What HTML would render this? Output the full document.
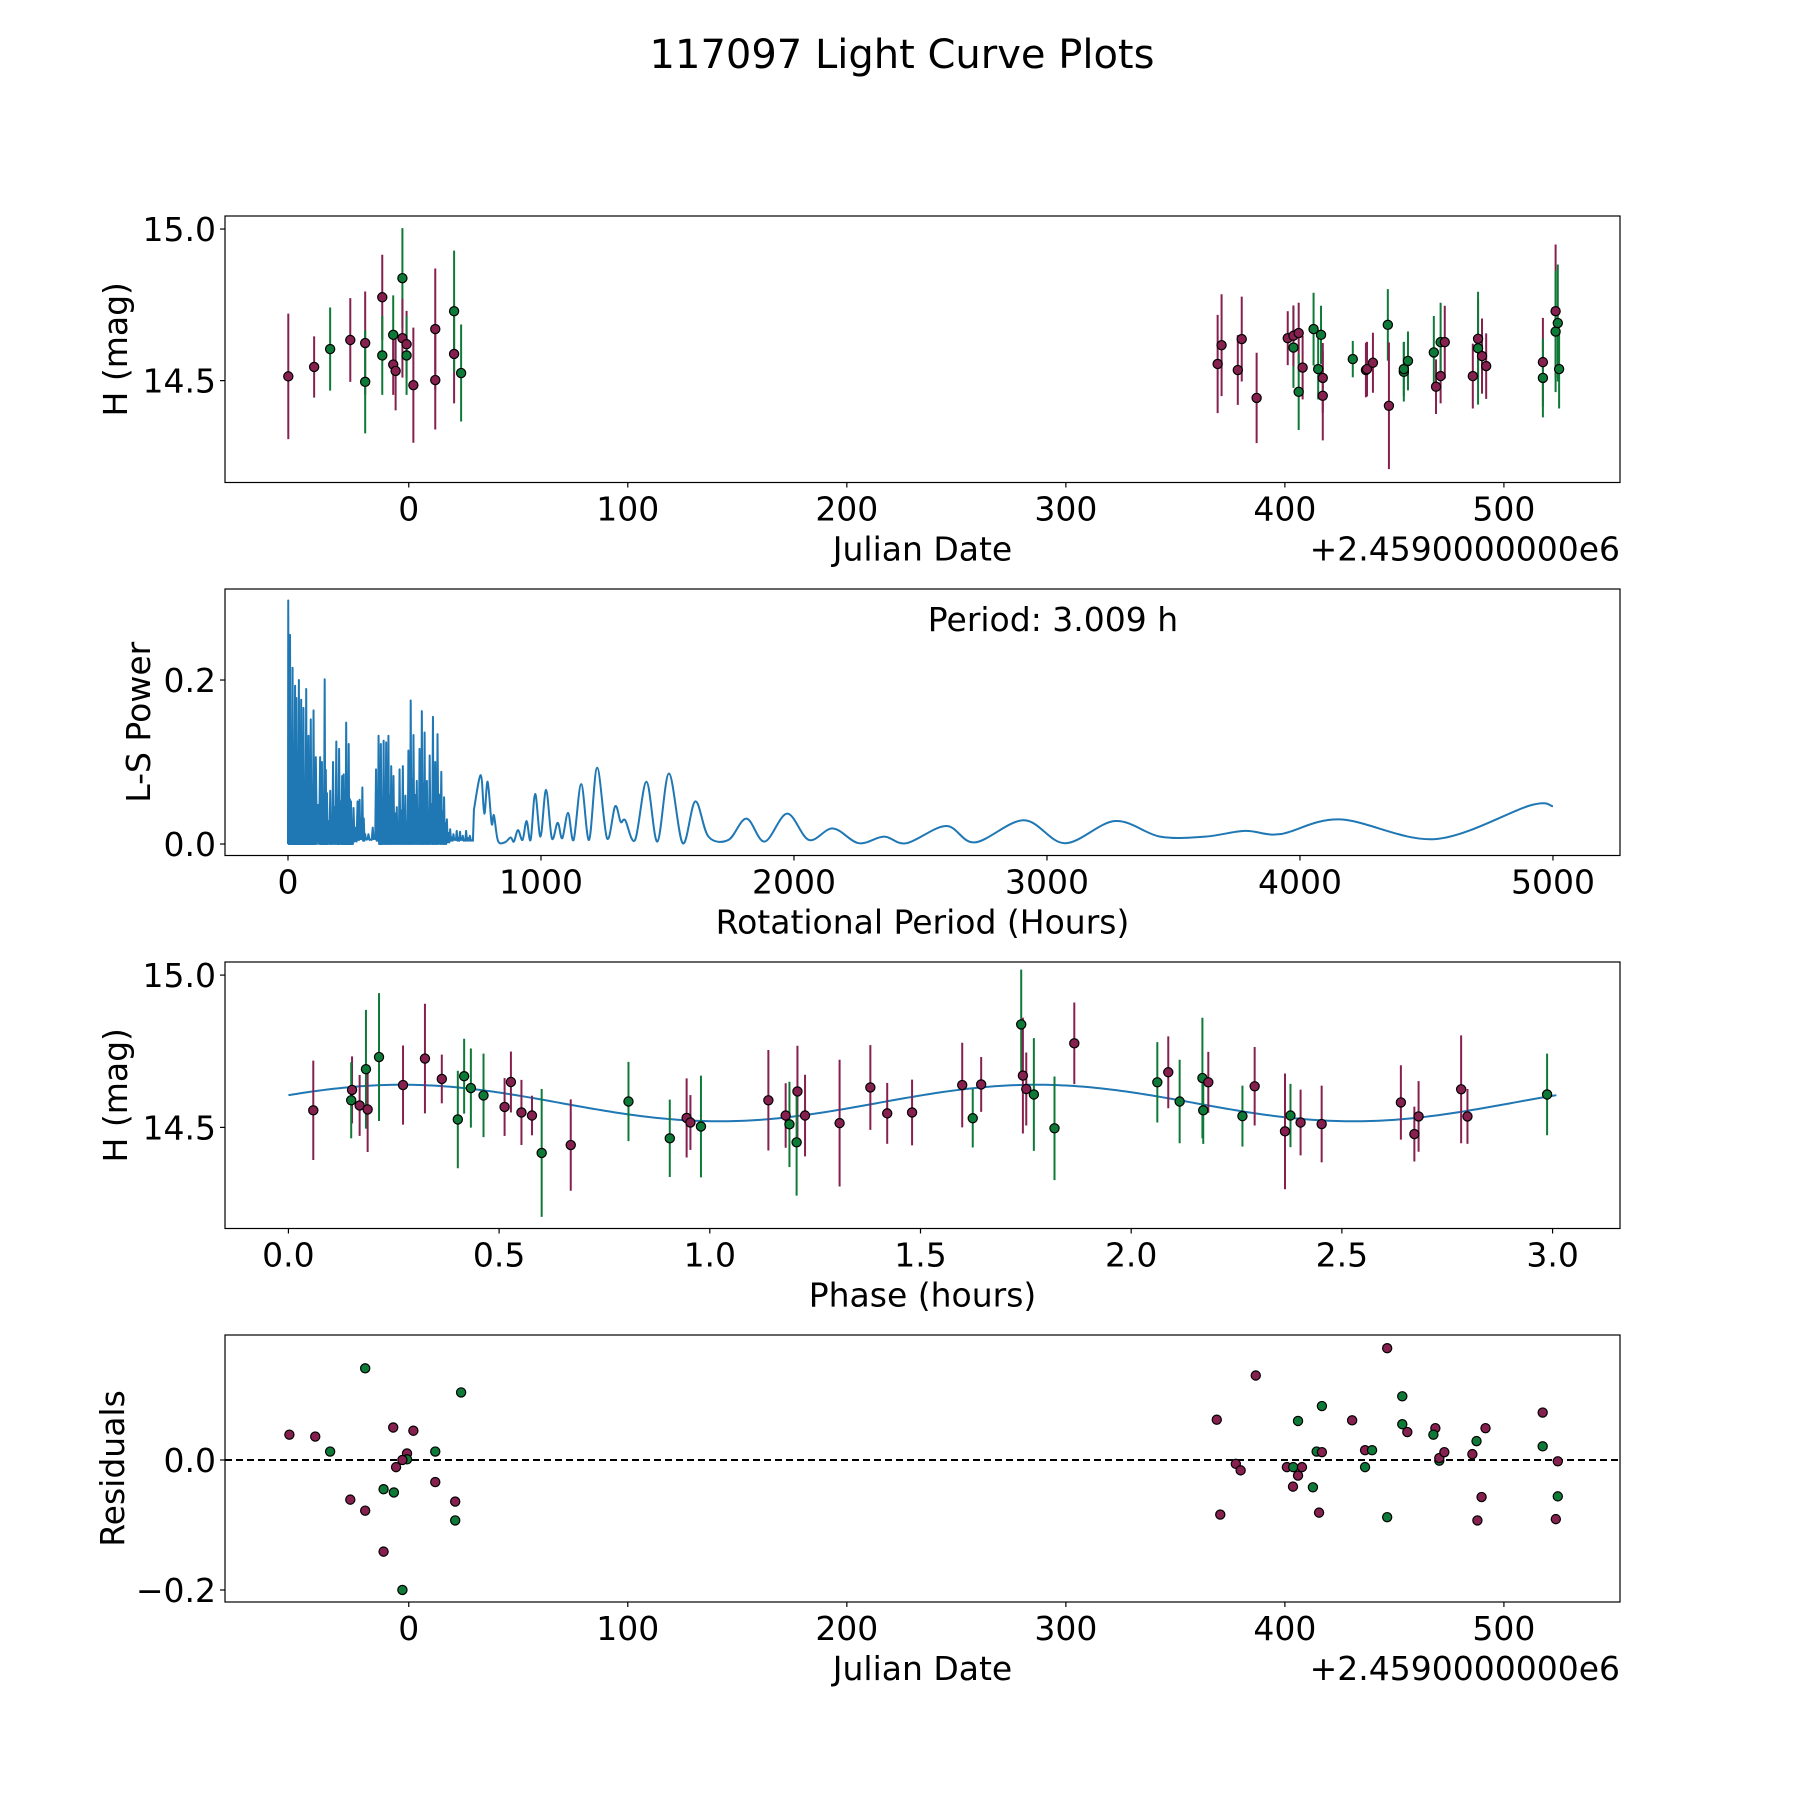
<!DOCTYPE html>
<html><head><meta charset="utf-8"><style>
html,body{margin:0;padding:0;background:#fff;}
svg{display:block;font-family:"DejaVu Sans","Liberation Sans",sans-serif;}
</style></head><body>
<svg id="fig" width="1800" height="1800" viewBox="0 0 1800 1800" xmlns="http://www.w3.org/2000/svg">
<rect width="1800" height="1800" fill="#fff"/>
<text x="902" y="68" font-size="40" text-anchor="middle">117097 Light Curve Plots</text>
<g id="p1"></g>
<g id="p2"></g>
<g id="p3"></g>
<g id="p4"></g>
</svg>
<script>
// ---- Panel 1: light curve (date offset, mag, err, filter) ----
const lcDate=[-55,-43.2,-35.9,-26.7,-19.9,-19.9,-12.1,-12.1,-7.1,-7.1,-6,-2.9,-2.9,-1,-1,2.1,12.1,12.1,20.7,20.7,23.9,
369.3,371.1,378.5,380.3,387.1,401.3,403.9,403.9,406.3,406.3,408.1,413.1,415.2,416.5,417.3,417.3,431,437,437.5,440.2,447,447.5,454.3,454.3,456.2,468,469,471.1,471.1,473,485.8,488.2,488.2,490,491.9,517.8,517.8,523.6,523.6,524.6,525.2];
const lcMag=[14.514,14.545,14.604,14.634,14.624,14.496,14.775,14.583,14.651,14.553,14.532,14.838,14.64,14.62,14.583,14.485,14.67,14.502,14.588,14.729,14.525,
14.555,14.617,14.535,14.637,14.443,14.64,14.609,14.648,14.657,14.463,14.543,14.67,14.538,14.651,14.509,14.45,14.571,14.535,14.538,14.559,14.684,14.417,14.529,14.538,14.565,14.593,14.48,14.515,14.627,14.627,14.515,14.638,14.607,14.581,14.548,14.561,14.509,14.729,14.662,14.69,14.538];
const lcErr=[0.207,0.101,0.137,0.138,0.17,0.17,0.14,0.13,0.13,0.1,0.13,0.165,0.13,0.11,0.13,0.19,0.2,0.163,0.163,0.2,0.16,
0.162,0.168,0.115,0.14,0.149,0.089,0.133,0.1,0.1,0.126,0.105,0.12,0.1,0.096,0.115,0.147,0.06,0.09,0.09,0.099,0.118,0.209,0.098,0.09,0.097,0.12,0.09,0.09,0.13,0.12,0.107,0.13,0.186,0.124,0.108,0.146,0.13,0.22,0.2,0.193,0.13];
const lcBand="rrgrrgrggrrgrrgrrrrgg rrrrrrgrrgrgggrrgrrrgrggggrrgrrrgrrrgrgggr".replace(/ /g,'').split('');
// ---- Panel 2: periodogram ----
const spikePeriod=[1,8,18,28,33,43,52,61,72,81,90,101,110,127,134,145,154,167,178,191,202,214,220,230,240,249,259,275,283,294,305,318,335,348,358,367,378,388,397,408,417,430,441,454,464,476,485,496,509,520,529,540,549,560,573,582,591,606,617,628,641,654,667,680,691,704,719];
const spikePower=[0.297,0.255,0.215,0.193,0.178,0.2,0.176,0.166,0.189,0.132,0.152,0.163,0.106,0.106,0.1,0.201,0.062,0.065,0.1,0.125,0.116,0.083,0.085,0.148,0.122,0.052,0.044,0.052,0.054,0.069,0.012,0.012,0.02,0.091,0.132,0.122,0.126,0.124,0.132,0.095,0.083,0.045,0.091,0.095,0.059,0.114,0.175,0.133,0.077,0.116,0.162,0.136,0.077,0.108,0.155,0.1,0.134,0.088,0.057,0.03,0.018,0.012,0.016,0.015,0.01,0.016,0.01];
const spikeFloor=[0,0,0,0,0,0,0,0,0,0,0,0,0,0,0,0,0,0,0,0,0,0,0,0,0,0,0.003,0.005,0.006,0.004,0.006,0.005,0.006,0.004,0,0,0,0,0,0,0,0,0,0,0,0,0,0,0,0,0,0,0,0,0,0,0,0,0,0.002,0.004,0.005,0.004,0.005,0.004,0.004,0.004];
const smoothPeriod=[735,762,776,789,805,814,830,857,880,893,909,927,943,959,977,998,1020,1043,1066,1084,1107,1129,1159,1190,1222,1261,1293,1315,1333,1372,1417,1460,1506,1560,1610,1662,1741,1812,1884,1973,2059,2154,2256,2356,2445,2601,2715,2909,3071,3269,3447,3625,3783,3921,4158,4534,4909,5000];
const smoothPower=[0.042,0.084,0.037,0.076,0.025,0.035,0.004,0.002,0.008,0.003,0.017,0.005,0.028,0.005,0.061,0.009,0.066,0.007,0.026,0.007,0.038,0.005,0.073,0.005,0.093,0.007,0.046,0.027,0.029,0.005,0.076,0.003,0.086,0.001,0.052,0.009,0.005,0.031,0.003,0.037,0.005,0.019,0.001,0.009,0.001,0.022,0.002,0.029,0.001,0.028,0.009,0.009,0.016,0.012,0.030,0.006,0.047,0.046];
// ---- Panel 3: phase folded ----
const phPhase=[0.059,0.151,0.149,0.184,0.169,0.188,0.215,0.272,0.324,0.364,0.402,0.417,0.433,0.463,0.513,0.528,0.553,0.578,0.601,0.670,0.807,0.905,0.945,0.954,0.979,1.139,1.180,1.189,1.208,1.206,1.226,1.308,1.381,1.421,
1.480,1.599,1.624,1.644,1.739,1.743,1.751,1.769,1.818,1.865,2.062,2.088,2.115,2.169,2.171,2.183,2.264,2.293,2.365,2.378,2.402,2.452,2.640,2.672,2.682,2.783,2.798,2.987];
const phMag=[14.556,14.623,14.589,14.691,14.572,14.559,14.731,14.639,14.726,14.659,14.526,14.668,14.629,14.605,14.567,14.649,14.549,14.539,14.416,14.442,14.585,14.464,14.531,14.516,14.503,14.589,14.539,14.51,14.618,14.451,14.539,14.514,14.631,14.546,
14.549,14.639,14.53,14.641,14.838,14.67,14.626,14.608,14.497,14.776,14.648,14.681,14.585,14.662,14.556,14.648,14.537,14.635,14.487,14.539,14.516,14.511,14.582,14.478,14.536,14.625,14.536,14.608];
const phErr=[0.163,0.11,0.125,0.195,0.1,0.14,0.21,0.13,0.18,0.08,0.16,0.123,0.13,0.137,0.095,0.1,0.107,0.065,0.21,0.15,0.13,0.127,0.13,0.09,0.167,0.165,0.106,0.14,0.15,0.175,0.134,0.208,0.139,0.1,
0.108,0.139,0.096,0.09,0.18,0.19,0.12,0.185,0.17,0.134,0.132,0.118,0.137,0.198,0.11,0.1,0.1,0.129,0.19,0.104,0.108,0.126,0.122,0.09,0.116,0.177,0.09,0.134];
const phBand="rrggrrgrrrggggrrrrgrggrrgrrgrgrrrr rrgrgrrggrgrgggrgrrgrrrrrrrg".replace(/ /g,'').split('');
const fitMean=14.58, fitAmp=0.06, fitPeak=0.27, fitHalfPeriod=1.5045, fitEnd=3.009;
// ---- Panel 4: residuals ----
const resDate=[-54.5,-42.7,-35.9,-19.9,-26.7,-19.9,-11.5,-6.8,-11.5,-2.9,-7.1,2.1,-0.8,-0.8,-2.9,-5.8,12.1,12.1,21.2,21.2,23.9,
368.9,370.5,377.6,379.8,386.7,400.9,403.8,407.8,406,403.7,406,412.8,414.5,416.9,416.9,415.6,430.7,436.6,439.8,436.6,446.7,446.7,453.6,453.6,455.9,468.7,467.8,470.5,470.5,472.8,485.6,487.5,487.9,489.8,491.6,517.7,517.7,524.6,524.6,523.7];
const resVal=[0.039,0.036,0.013,0.141,-0.061,-0.078,-0.045,-0.05,-0.141,-0.2,0.05,0.045,0.01,0.001,0,-0.011,0.013,-0.034,-0.064,-0.093,0.104,
0.062,-0.084,-0.006,-0.016,0.13,-0.011,-0.011,-0.011,-0.024,-0.041,0.06,-0.042,0.013,0.012,0.083,-0.081,0.061,0.015,0.015,-0.011,0.172,-0.088,0.098,0.055,0.043,0.049,0.039,-0.001,0.003,0.012,0.009,0.029,-0.093,-0.057,0.049,0.073,0.021,-0.002,-0.056,-0.091];
const resBand="rrggrrggrgrrrgrrgrrgg rrrrrrgrrrgggrgrrrggrgggrrggrrrgrrrrgrgr".replace(/ /g,'').split('');

const NS="http://www.w3.org/2000/svg";
const COL={r:'#85204f',g:'#0e7a37'};
const FS=33;
function mk(tag,attrs,parent){const e=document.createElementNS(NS,tag);for(const k in attrs)e.setAttribute(k,attrs[k]);parent.appendChild(e);return e;}
function axis(g,x0,x1,y0,y1,dx,dy){
  return {X:v=>x0+(v-dx[0])/(dx[1]-dx[0])*(x1-x0),Y:v=>y1-(v-dy[0])/(dy[1]-dy[0])*(y1-y0),x0,x1,y0,y1};
}
function frame(g,A,xt,xl,yt,yl,xlabel,ylabel,ylx,offset){
  const f=mk('rect',{x:A.x0,y:A.y0,width:A.x1-A.x0,height:A.y1-A.y0,fill:'none',stroke:'#000','stroke-width':1.2},g);
  
  
  xt.forEach((v,i)=>{const x=A.X(v);
    const t=mk('line',{x1:x,x2:x,y1:A.y1,y2:A.y1+5,stroke:'#000','stroke-width':1.2},g);
    
    
    const l=mk('text',{x:x,y:A.y1+38,'font-size':FS,'text-anchor':'middle'},g);l.textContent=xl[i];
    
    });
  yt.forEach((v,i)=>{const y=A.Y(v);
    const t=mk('line',{x1:A.x0-5,x2:A.x0,y1:y,y2:y,stroke:'#000','stroke-width':1.2},g);
    
    
    const l=mk('text',{x:A.x0-9,y:y+12,'font-size':FS,'text-anchor':'end'},g);l.textContent=yl[i];
    
    });
  const xa=mk('text',{x:(A.x0+A.x1)/2,y:A.y1+78,'font-size':FS,'text-anchor':'middle'},g);xa.textContent=xlabel;
  
  
  const cy=(A.y0+A.y1)/2;
  const ya=mk('text',{x:ylx,y:cy,'font-size':FS,'text-anchor':'middle',transform:`rotate(-90 ${ylx} ${cy})`},g);ya.textContent=ylabel;
  
  
  if(offset){const o=mk('text',{x:A.x1,y:A.y1+78,'font-size':FS,'text-anchor':'end'},g);o.textContent=offset;
    
    }
}
function errpts(g,A,xs,ys,es,bs){
  xs.forEach((v,i)=>{const x=A.X(v),c=COL[bs[i]];
    const l=mk('line',{x1:x,x2:x,y1:A.Y(ys[i]+es[i]),y2:A.Y(ys[i]-es[i]),stroke:c,'stroke-width':2},g);
    
    });
  xs.forEach((v,i)=>{const c=mk('circle',{cx:A.X(v),cy:A.Y(ys[i]),r:4.6,fill:COL[bs[i]],stroke:'#000','stroke-width':1.2},g);
    
    });
}
// Panel 1
const g1=document.getElementById('p1');
const A1=axis(g1,225,1620,216,482.5,[-83.9,553],[14.164,15.043]);
errpts(g1,A1,lcDate,lcMag,lcErr,lcBand);
frame(g1,A1,[0,100,200,300,400,500],['0','100','200','300','400','500'],[14.5,15.0],['14.5','15.0'],'Julian Date','H (mag)',127,'+2.4590000000e6');
// Panel 2
const g2=document.getElementById('p2');
const A2=axis(g2,225,1620,589,855.5,[-249,5265],[-0.014,0.311]);
let d='M'+A2.X(0)+' '+A2.Y(0);
spikePeriod.forEach((p,i)=>{
  const next=i+1<spikePeriod.length?spikePeriod[i+1]:735;
  d+=' L'+A2.X(p).toFixed(2)+' '+A2.Y(spikePower[i]).toFixed(2);
  const mid=(p+next)/2;
  d+=' L'+A2.X(p+(mid-p)*0.5).toFixed(2)+' '+A2.Y(spikeFloor[i]).toFixed(2);
  d+=' L'+A2.X(mid).toFixed(2)+' '+A2.Y(spikePower[i]*0.45).toFixed(2);
  d+=' L'+A2.X(mid+(next-mid)*0.5).toFixed(2)+' '+A2.Y(spikeFloor[i]).toFixed(2);
});
const sm=smoothPeriod.map((p,i)=>[A2.X(p),A2.Y(smoothPower[i])]);
for(let i=0;i<sm.length-1;i++){
  const p0=sm[Math.max(0,i-1)],p1=sm[i],p2=sm[i+1],p3=sm[Math.min(sm.length-1,i+2)];
  if(i===0){d+=' L'+p1[0].toFixed(2)+' '+p1[1].toFixed(2);}
  const c1=[p1[0]+(p2[0]-p0[0])/6,p1[1]+(p2[1]-p0[1])/6],c2=[p2[0]-(p3[0]-p1[0])/6,p2[1]-(p3[1]-p1[1])/6];
  d+=` C${c1[0].toFixed(2)} ${c1[1].toFixed(2)} ${c2[0].toFixed(2)} ${c2[1].toFixed(2)} ${p2[0].toFixed(2)} ${p2[1].toFixed(2)}`;
}
const pg=mk('path',{d:d,fill:'none',stroke:'#1f77b4','stroke-width':2,'stroke-linejoin':'round'},g2);


frame(g2,A2,[0,1000,2000,3000,4000,5000],['0','1000','2000','3000','4000','5000'],[0,0.2],['0.0','0.2'],'Rotational Period (Hours)','L-S Power',150,null);
const pt=mk('text',{x:1053,y:631,'font-size':FS,'text-anchor':'middle'},g2);pt.textContent='Period: 3.009 h';


// Panel 3
const g3=document.getElementById('p3');
const A3=axis(g3,225,1620,962,1228.5,[-0.1505,3.16],[14.168,15.043]);
let fd='';
for(let k=0;k<=300;k++){const ph=fitEnd*k/300;const m=fitMean+fitAmp*Math.cos(2*Math.PI*(ph-fitPeak)/fitHalfPeriod);
  fd+=(k?' L':'M')+A3.X(ph).toFixed(2)+' '+A3.Y(m).toFixed(2);}
const fit=mk('path',{d:fd,fill:'none',stroke:'#1f77b4','stroke-width':2},g3);


errpts(g3,A3,phPhase,phMag,phErr,phBand);
frame(g3,A3,[0,0.5,1,1.5,2,2.5,3],['0.0','0.5','1.0','1.5','2.0','2.5','3.0'],[14.5,15.0],['14.5','15.0'],'Phase (hours)','H (mag)',127,null);
// Panel 4
const g4=document.getElementById('p4');
const A4=axis(g4,225,1620,1335,1602,[-83.9,553],[-0.2185,0.1923]);
const zl=mk('line',{x1:A4.x0,x2:A4.x1,y1:A4.Y(0),y2:A4.Y(0),stroke:'#000','stroke-width':2,'stroke-dasharray':'7,4'},g4);


resDate.forEach((v,i)=>{const c=mk('circle',{cx:A4.X(v),cy:A4.Y(resVal[i]),r:4.6,fill:COL[resBand[i]],stroke:'#000','stroke-width':1.2},g4);
  
  });
frame(g4,A4,[0,100,200,300,400,500],['0','100','200','300','400','500'],[-0.2,0],['\u22120.2','0.0'],'Julian Date','Residuals',124,'+2.4590000000e6');
</script>
</body></html>
